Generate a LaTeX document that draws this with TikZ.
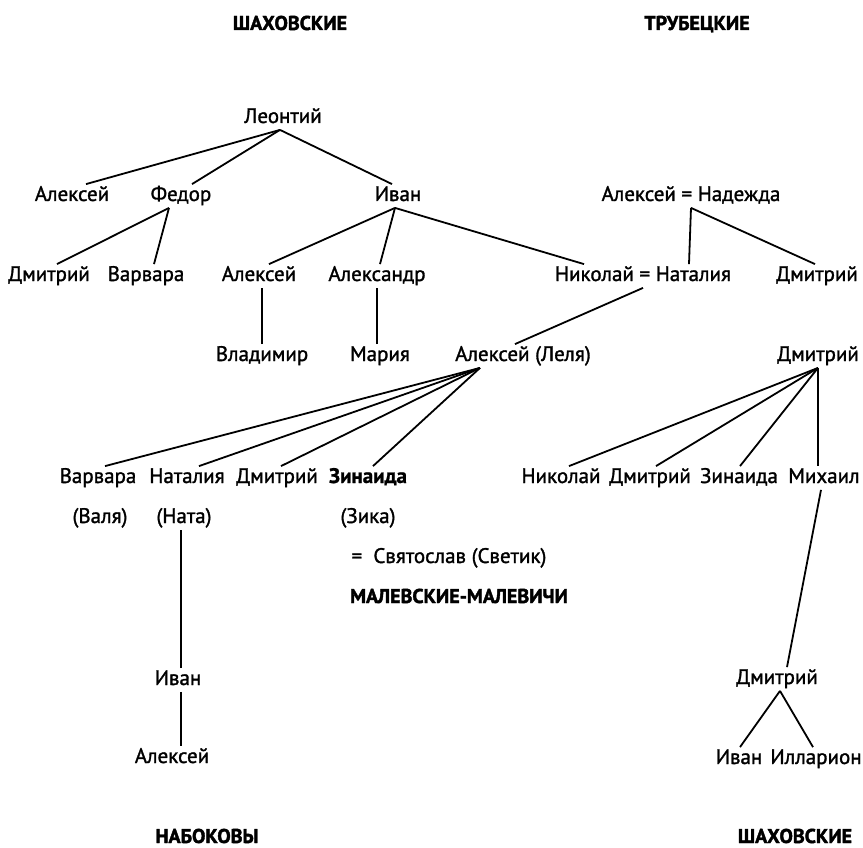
\documentclass[tikz,border=0pt]{standalone}
\usepackage{fontspec}
\setmainfont{PT Sans}
\newfontfamily\namefont{PT Sans}[FakeBold=1.4]
\newfontfamily\boldname{PT Sans Bold}[FakeBold=1]
\newfontfamily\clanfont{PT Sans Bold}[FakeBold=2]
\usepackage{tikz}
\usetikzlibrary{positioning}

\begin{document}
\begin{tikzpicture}[x=1pt, y=-1pt, line width=1.8pt,
  every node/.style={font=\namefont\fontsize{21}{25}\selectfont, inner sep=1pt, text height=15pt, text depth=5pt},
  clan/.style={font=\clanfont\fontsize{20}{24}\selectfont}]
\useasboundingbox (0,0) rectangle (863,848);

% family names
\node[clan] (shahtop) at (290,25) {ШАХОВСКИЕ};
\node[clan] (trub) at (697,25) {ТРУБЕЦКИЕ};
\node[clan] (malev) at (459,598) {МАЛЕВСКИЕ-МАЛЕВИЧИ};
\node[clan] (nabok) at (207,838) {НАБОКОВЫ};
\node[clan] (shahbot) at (795,838) {ШАХОВСКИЕ};

% Shakhovskie
\node (leontij) at (283,118) {Леонтий};
\node (aleksejA) at (72,196) {Алексей};
\node (fedor) at (181,196) {Федор};
\node (ivan) at (398,196) {Иван};
\node (dmitrijF) at (49,276) {Дмитрий};
\node (varvaraF) at (146,276) {Варвара};
\node (aleksejI) at (259,276) {Алексей};
\node (aleksandr) at (377,276) {Александр};
\node (vladimir) at (262,356) {Владимир};
\node (marija) at (380,356) {Мария};

% Trubetskie
\node (aleknad) at (691,196) {Алексей = Надежда};
\node (nikolaj) at (643,276) {Николай = Наталия};
\node (dmitrijT) at (817,276) {Дмитрий};
\node (lelja) at (523,356) {Алексей (Леля)};

% children of Lelja
\node (varvara) at (98,478) {Варвара};
\node (natalija) at (187,478) {Наталия};
\node (dmitrijL) at (277,478) {Дмитрий};
\node[font=\boldname\fontsize{21}{25}\selectfont] (zinaida) at (368,478) {Зинаида};
\node (valja) at (100,518) {(Валя)};
\node (nata) at (184,518) {(Ната)};
\node (zika) at (368,518) {(Зика)};
\node (svetik) at (449,558) {=\ \ Святослав (Светик)};
\node (ivanN) at (178,680) {Иван};
\node (aleksejN) at (172,758) {Алексей};

% right branch
\node (dmitrijS) at (818,356) {Дмитрий};
\node (nikolajS) at (561,478) {Николай};
\node (dmitrijS2) at (650,478) {Дмитрий};
\node (zinaidaS) at (739,478) {Зинаида};
\node (mihail) at (824,478) {Михаил};
\node (dmitrijM) at (777,679) {Дмитрий};
\node (ivanM) at (739,759) {Иван};
\node (illarion) at (816,759) {Илларион};

\draw ([xshift=-3pt]leontij.south) -- ([xshift=14pt]aleksejA.north);
\draw ([xshift=-3pt]leontij.south) -- ([xshift=11pt]fedor.north);
\draw ([xshift=-3pt]leontij.south) -- ([xshift=-6pt]ivan.north);
\draw ([xshift=-12pt]fedor.south) -- ([xshift=8pt]dmitrijF.north);
\draw ([xshift=-12pt]fedor.south) -- ([xshift=8pt]varvaraF.north);
\draw ([xshift=-3pt]ivan.south) -- ([xshift=10pt]aleksejI.north);
\draw ([xshift=-3pt]ivan.south) -- ([xshift=3pt]aleksandr.north);
\draw ([xshift=-3pt]ivan.south) -- ([xshift=-59pt]nikolaj.north);
\draw (vladimir.north) -- (vladimir.north |- aleksejI.south);
\draw (marija.north -| aleksandr) -- (aleksandr.south);
\draw ([xshift=0pt]aleknad.south) -- ([xshift=46pt]nikolaj.north);
\draw ([xshift=0pt]aleknad.south) -- ([xshift=-2pt]dmitrijT.north);
\draw (nikolaj.south) -- ([xshift=-8pt]lelja.north);
\draw ([xshift=-43pt]lelja.south) -- ([xshift=7pt]varvara.north);
\draw ([xshift=-43pt]lelja.south) -- ([xshift=12pt]natalija.north);
\draw ([xshift=-43pt]lelja.south) -- ([xshift=4pt]dmitrijL.north);
\draw ([xshift=-43pt]lelja.south) -- ([xshift=5pt]zinaida.north);
\draw ([xshift=3pt]ivanN.north) -- ([xshift=3pt]ivanN.north |- nata.south);
\draw ([xshift=3pt]ivanN.south) -- ([xshift=3pt]ivanN.south |- aleksejN.north);
\draw (dmitrijS.south) -- ([xshift=8pt]nikolajS.north);
\draw (dmitrijS.south) -- ([xshift=6pt]dmitrijS2.north);
\draw (dmitrijS.south) -- ([xshift=1pt]zinaidaS.north);
\draw (dmitrijS.south) -- (dmitrijS.south |- mihail.north);
\draw ([xshift=-3pt]mihail.south) -- ([xshift=10pt]dmitrijM.north);
\draw ([xshift=3pt]dmitrijM.south) -- ([xshift=1pt]ivanM.north);
\draw ([xshift=3pt]dmitrijM.south) -- ([xshift=-3pt]illarion.north);
\end{tikzpicture}
\end{document}
